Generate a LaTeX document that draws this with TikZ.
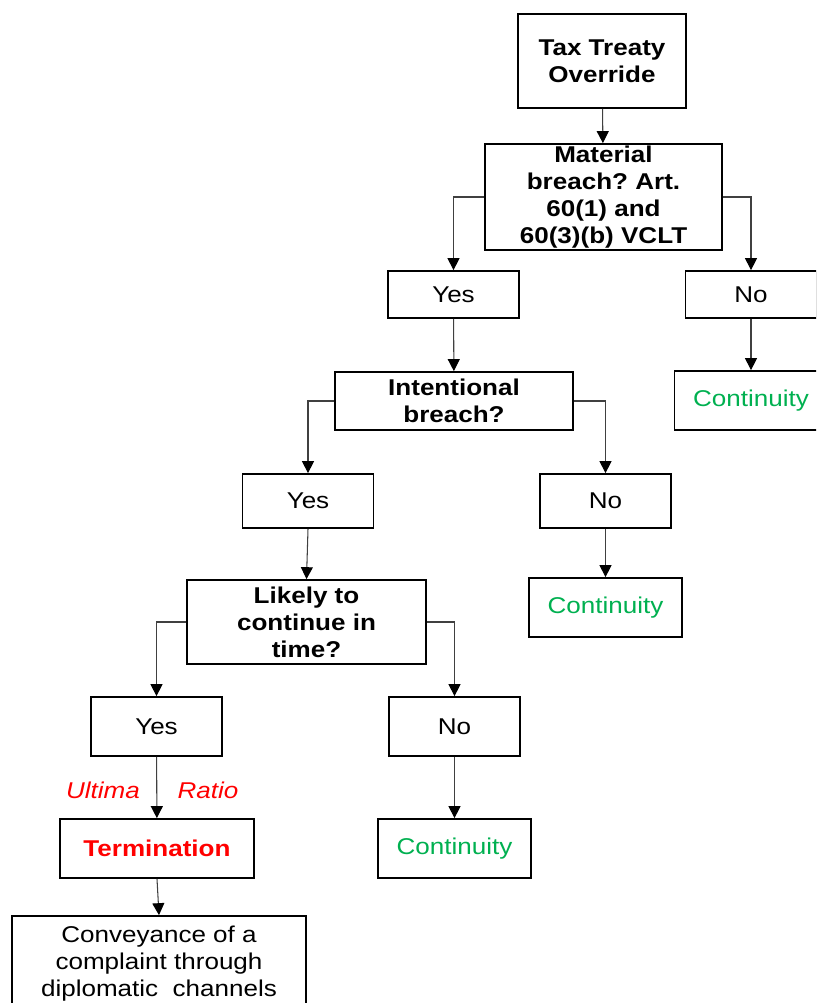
\documentclass[tikz,border=0pt]{standalone}
\usepackage{fontspec}
\setmainfont[FakeStretch=1.14]{Liberation Sans}
\usetikzlibrary{arrows.meta}
\definecolor{okgreen}{RGB}{0,176,80}
\definecolor{alertred}{RGB}{255,0,0}
\definecolor{linkgray}{RGB}{64,64,64}
\frenchspacing

\begin{document}
\begin{tikzpicture}[x=0.02cm, y=-0.02cm,
    box/.style={draw, line width=1pt, inner sep=0pt, align=center, font=\fontsize{13}{15.4}\selectfont},
    question/.style={box, font=\fontsize{13}{15.4}\selectfont\bfseries},
    answer/.style={box, minimum width=2.62cm},
    outcome/.style={box, text=okgreen, minimum width=3.06cm, minimum height=1.18cm},
    link/.style={draw=linkgray, line width=0.6pt, -{Triangle[width=6.8pt,length=6.8pt,color=black]}}]
    \useasboundingbox (0,0) rectangle (816,1003);
    \clip (0,0) rectangle (816,1003);

    % questions
    \node[question, minimum width=3.36cm, minimum height=1.88cm] (tto) at (602,61) {Tax Treaty\\Override};
    \node[question, minimum width=4.74cm, minimum height=2.12cm] (material) at (603.5,197) {Material\\breach? Art.\\60(1) and\\60(3)(b) VCLT};
    \node[question, minimum width=4.76cm, minimum height=1.16cm] (intent) at (454,401) {Intentional\\breach?};
    \node[question, minimum width=4.78cm, minimum height=1.68cm] (likely) at (306.5,622) {Likely to\\continue in\\time?};

    % answers
    \node[answer, minimum height=0.94cm] (yesA) at (453.5,294.5) {Yes};
    \node[answer, minimum height=0.94cm] (noA) at (751,294.5) {No};
    \node[answer, minimum height=1.08cm] (yesB) at (308,501) {Yes};
    \node[answer, minimum height=1.08cm] (noB) at (605.5,501) {No};
    \node[answer, minimum height=1.18cm] (yesC) at (156.5,726.5) {Yes};
    \node[answer, minimum height=1.18cm] (noC) at (454.5,726.5) {No};

    % outcomes
    \node[outcome] (contA) at (751,400.5) {Continuity};
    \node[outcome] (contB) at (605.5,607.5) {Continuity};
    \node[outcome] (contC) at (454.5,848.5) {Continuity};
    \node[box, text=alertred, font=\fontsize{13}{15.4}\selectfont\bfseries, minimum width=3.88cm, minimum height=1.18cm] (term) at (157,848.5) {Termination};
    \node[box, minimum width=5.88cm, minimum height=1.92cm] (convey) at (159,964) {Conveyance of a\\complaint through\\diplomatic\ \ channels};

    \node[font=\fontsize{13}{15.4}\selectfont\itshape, text=alertred] (ultima) at (103,790) {Ultima};
    \node[font=\fontsize{13}{15.4}\selectfont\itshape, text=alertred] (ratio) at (208,790) {Ratio};

    % connectors
    \draw[link] (tto) -- (material);
    \draw[link] (material.west) -| (yesA.north);
    \draw[link] (material.east) -| (noA.north);
    \draw[link] (yesA) -- (intent);
    \draw[link] (noA) -- (contA);
    \draw[link] (intent.west) -| (yesB.north);
    \draw[link] (intent.east) -| (noB.north);
    \draw[link] (noB) -- (contB);
    \draw[link] (yesB.south) -- (likely.north);
    \draw[link] (likely.west) -| (yesC.north);
    \draw[link] (likely.east) -| (noC.north);
    \draw[link] (yesC) -- (term);
    \draw[link] (noC) -- (contC);
    \draw[link] (term.south) -- (convey.north);
\end{tikzpicture}
\end{document}
